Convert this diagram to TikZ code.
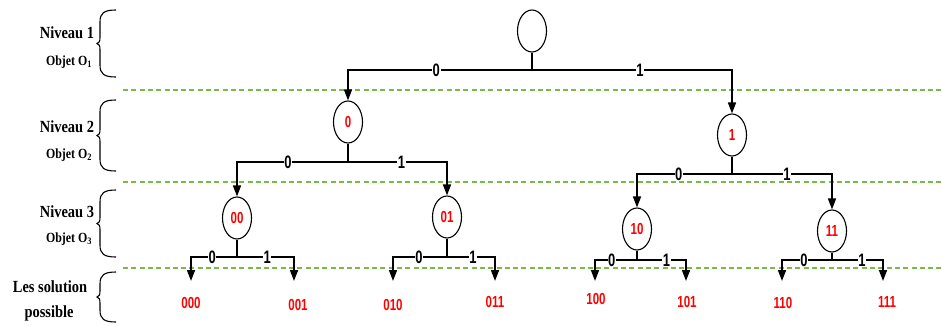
\documentclass[tikz,border=0pt]{standalone}
\usepackage{fontspec}
\usetikzlibrary{arrows.meta,shapes.geometric}
\newfontfamily\labfont{Liberation Serif}[FakeStretch=0.85]
\newfontfamily\digfont{Liberation Sans}[FakeStretch=0.72]
\definecolor{sepgreen}{HTML}{78B94A}
\definecolor{redlab}{HTML}{FF0000}
\tikzset{
  state/.style={ellipse,draw,line width=1.1pt,minimum width=29pt,minimum height=42pt,inner sep=0pt,
    font=\digfont\bfseries\fontsize{16}{18}\selectfont,text=redlab},
  conn/.style={line width=1.6pt},
  arr/.style={line width=1.6pt,-{Triangle[length=11pt,width=8pt]}},
  blab/.style={fill=white,inner sep=0.6pt,font=\digfont\bfseries\fontsize{18}{20}\selectfont},
  leaf/.style={font=\digfont\bfseries\fontsize{16}{18}\selectfont,text=redlab},
  niv/.style={font=\labfont\bfseries\fontsize{17}{20}\selectfont},
  obj/.style={font=\labfont\bfseries\fontsize{14}{16}\selectfont},
  sep/.style={sepgreen,line width=1.7pt,dash pattern=on 5pt off 3.3pt},
  brc/.style={line width=1.1pt}
}
\begin{document}
\begin{tikzpicture}[x=1pt,y=-1pt]
\useasboundingbox (0,0) rectangle (942,325);
% separators
\draw[sep] (123,90) coordinate (s1a) -- (942,90) coordinate (s1b);
\draw[sep] (123,182) coordinate (s2a) -- (942,182) coordinate (s2b);
\draw[sep] (123,268) coordinate (s3a) -- (942,268) coordinate (s3b);
% left labels
\node[niv] (nv1) at (67,33) {Niveau 1};
\node[obj] (ob1) at (69,62) {Objet O\textsubscript{1}};
\node[niv] (nv2) at (67,127) {Niveau 2};
\node[obj] (ob2) at (69,155) {Objet O\textsubscript{2}};
\node[niv] (nv3) at (67,212) {Niveau 3};
\node[obj] (ob3) at (69,239) {Objet O\textsubscript{3}};
\node[niv] (ls1) at (50,287) {Les solution};
\node[niv] (ls2) at (49,313) {possible};
% braces
\foreach \t/\b in {10/77,100/171,190/257,272/322}{
  \pgfmathsetmacro{\m}{(\t+\b)/2}
  \draw[brc] (116,\t) .. controls (104,\t) and (100,\t+3) .. (100,\t+12)
    -- (100,\m-6) .. controls (100,\m-2) and (99,\m-0.5) .. (97,\m)
    .. controls (99,\m+0.5) and (100,\m+2) .. (100,\m+6)
    -- (100,\b-12) .. controls (100,\b-3) and (104,\b) .. (116,\b);
}
% nodes
\node[state] (r) at (532,31) {};
\node[state] (n0) at (348,122) {0};
\node[state] (n1) at (732,135) {1};
\node[state] (n00) at (237,218) {00};
\node[state] (n01) at (447,217) {01};
\node[state] (n10) at (637,229) {10};
\node[state] (n11) at (832,231) {11};
% level 1 -> 2
\draw[conn] (r.south) -- (532,70) coordinate (j1);
\draw[arr] (j1) -| node[blab,pos=0.26]{0} (n0.north);
\draw[arr] (j1) -| node[blab,pos=0.27]{1} (n1.north);
% level 2 -> 3
\draw[conn] (n0.south) -- (348,162) coordinate (j2);
\draw[arr] (j2) -| node[blab,pos=0.27]{0} (n00.north);
\draw[arr] (j2) -| node[blab,pos=0.27]{1} (n01.north);
\draw[conn] (n1.south) -- (732,174) coordinate (j3);
\draw[arr] (j3) -| node[blab,pos=0.28]{0} (n10.north);
\draw[arr] (j3) -| node[blab,pos=0.275]{1} (n11.north);
% leaves
\coordinate (c000) at (191,281);
\coordinate (c001) at (294,281);
\coordinate (c010) at (393,281);
\coordinate (c011) at (495,281);
\coordinate (c100) at (595,281);
\coordinate (c101) at (686,281);
\coordinate (c110) at (782,281);
\coordinate (c111) at (883,281);
\node[leaf] (t000) at (191,303) {000};
\node[leaf] (t001) at (298,305) {001};
\node[leaf] (t010) at (393,305) {010};
\node[leaf] (t011) at (495,302) {011};
\node[leaf] (t100) at (596,299) {100};
\node[leaf] (t101) at (687,302) {101};
\node[leaf] (t110) at (783,303) {110};
\node[leaf] (t111) at (887,302) {111};
% level 3 -> leaves
\draw[conn] (n00.south) -- (237,257) coordinate (j4);
\draw[arr] (j4) -| node[blab,pos=0.27]{0} (c000);
\draw[arr] (j4) -| node[blab,pos=0.265]{1} (c001);
\draw[conn] (n01.south) -- (447,257) coordinate (j5);
\draw[arr] (j5) -| node[blab,pos=0.26]{0} (c010);
\draw[arr] (j5) -| node[blab,pos=0.27]{1} (c011);
\draw[conn] (n10.south) -- (637,260) coordinate (j6);
\draw[arr] (j6) -| node[blab,pos=0.3]{0} (c100);
\draw[arr] (j6) -| node[blab,pos=0.3]{1} (c101);
\draw[conn] (n11.south) -- (832,260) coordinate (j7);
\draw[arr] (j7) -| node[blab,pos=0.28]{0} (c110);
\draw[arr] (j7) -| node[blab,pos=0.295]{1} (c111);
\end{tikzpicture}
\end{document}
